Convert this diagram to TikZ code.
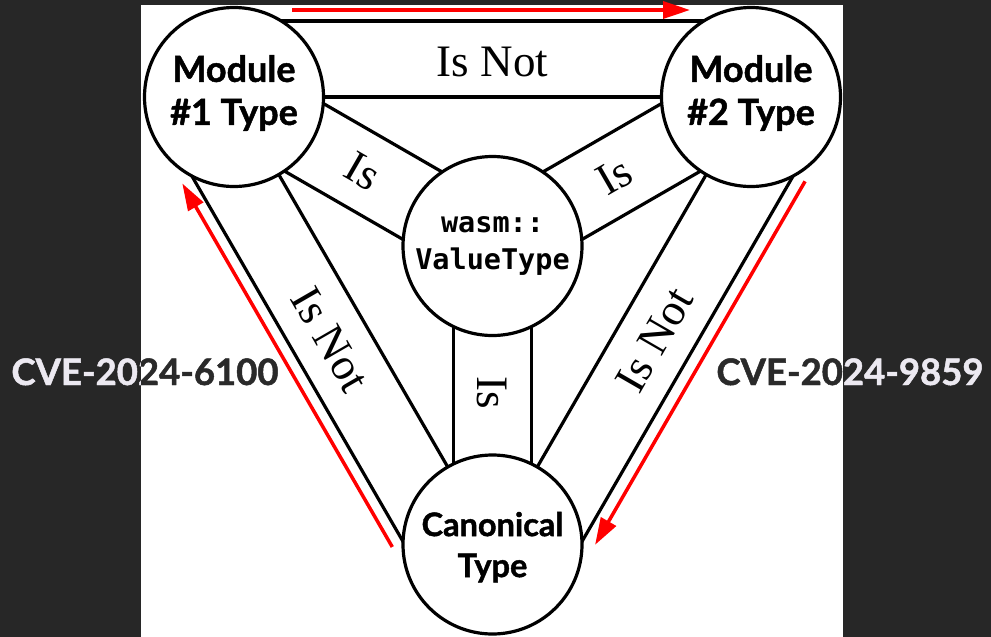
\documentclass[tikz,border=0pt]{standalone}
\usepackage{fontspec}
\newfontfamily\labfont[BoldFeatures={FakeBold=1.3}]{Lato}
\newfontfamily\codefont{DejaVu Sans Mono}
\newfontfamily\serfont{Liberation Serif}
\usetikzlibrary{calc,arrows.meta,backgrounds}
\definecolor{bgdark}{HTML}{272727}
\definecolor{cvelight}{HTML}{ECE9F1}
\definecolor{cvedark}{HTML}{2A2A2A}
\definecolor{arrowred}{HTML}{FF0000}
\begin{document}
\begin{tikzpicture}[x=1pt,y=-1pt,
  typenode/.style={circle,draw=black,line width=3.2pt,fill=white,minimum size=179pt,inner sep=0pt,align=center},
  modtext/.style={font=\labfont\bfseries\fontsize{36}{43}\selectfont,text depth=14pt},
  band/.style={draw=black,line width=3.2pt},
  redarrow/.style={draw=arrowred,line width=3.5pt,-{Triangle[length=27pt,width=17pt]}},
  rel/.style={font=\serfont\fontsize{45}{45}\selectfont,inner sep=0pt},
  cve/.style={font=\labfont\bfseries\fontsize{36.5}{42}\selectfont,anchor=base,inner sep=0pt}
]
\useasboundingbox (0,0) rectangle (991,637);
\begin{scope}[on background layer]
  \fill[bgdark] (0,0) rectangle (991,637);
  \fill[white] (141,5) rectangle (843,637);
\end{scope}

% nodes
\node[typenode,modtext] (m1) at (234,97) {Module\\\#1 Type};
\node[typenode,modtext] (m2) at (751,97) {Module\\\#2 Type};
\node[typenode,font=\codefont\bfseries\fontsize{28.5}{37}\selectfont] (v) at (492.5,246) {wasm::\\ValueType};
\node[typenode,font=\labfont\bfseries\fontsize{32.5}{41}\selectfont,text depth=0pt] (can) at (492.5,544.5) {Canonical\\Type};

% bands
\begin{scope}[on background layer]
  % outer triangle edges (inner line through centres, outer line offset)
  \draw[band] (m1.center) -- (m2.center);
  \draw[band] ($(m1)!76pt!90:(m2)$) -- ($(m2)!76pt!-90:(m1)$);
  \draw[band] (m2.center) -- (can.center);
  \draw[band] ($(m2)!76pt!90:(can)$) -- ($(can)!76pt!-90:(m2)$);
  \draw[band] (can.center) -- (m1.center);
  \draw[band] ($(can)!76pt!90:(m1)$) -- ($(m1)!76pt!-90:(can)$);
  % spokes
  \draw[band] ($(v)!39pt!90:(m1)$) -- ($(m1)!39pt!-90:(v)$);
  \draw[band] ($(v)!39pt!-90:(m1)$) -- ($(m1)!39pt!90:(v)$);
  \draw[band] ($(v)!39pt!90:(m2)$) -- ($(m2)!39pt!-90:(v)$);
  \draw[band] ($(v)!39pt!-90:(m2)$) -- ($(m2)!39pt!90:(v)$);
  \draw[band] ($(v)!39pt!90:(can)$) -- ($(can)!39pt!-90:(v)$);
  \draw[band] ($(v)!39pt!-90:(can)$) -- ($(can)!39pt!90:(v)$);
\end{scope}

% red arrows
\draw[redarrow] ($($(m1)!58pt!(m2)$)!87pt!90:(m2)$) -- ($($(m2)!61pt!(m1)$)!87pt!-90:(m1)$);
\draw[redarrow] ($($(m2)!46pt!(can)$)!89pt!90:(can)$) -- ($($(can)!51pt!(m2)$)!89pt!-90:(m2)$);
\draw[redarrow] ($($(can)!48pt!(m1)$)!88pt!90:(m1)$) -- ($($(m1)!49pt!(can)$)!88pt!-90:(can)$);

% relation labels
\node[rel] (lt) at ($($(m1)!0.5!(m2)$)!35pt!90:(m2)$) {Is Not};
\node[rel,rotate=60] (lr) at ($($(m2)!0.5!(can)$)!38pt!90:(can)$) {Is Not};
\node[rel,rotate=-60] (ll) at ($($(can)!0.5!(m1)$)!38pt!90:(m1)$) {Is Not};
\node[rel,rotate=-30] (s1) at ($(v)!0.5!(m1)$) {Is};
\node[rel,rotate=30] (s2) at ($(v)!0.47!(m2)$) {Is};
\node[rel,rotate=-90] (s3) at ($(v)!0.49!(can)$) {Is};

% CVE labels, two-tone across the white panel edge
\begin{scope}
  \clip (0,0) rectangle (141,637);
  \node[cve,text=cvelight] (cveA) at (145,385) {CVE-2024-6100};
\end{scope}
\begin{scope}
  \clip (141,0) rectangle (843,637);
  \node[cve,text=cvedark] (cveAb) at (145,385) {CVE-2024-6100};
  \node[cve,text=cvedark] (cveBb) at (850,385) {CVE-2024-9859};
\end{scope}
\begin{scope}
  \clip (843,0) rectangle (991,637);
  \node[cve,text=cvelight] (cveB) at (850,385) {CVE-2024-9859};
\end{scope}
\end{tikzpicture}
\end{document}
